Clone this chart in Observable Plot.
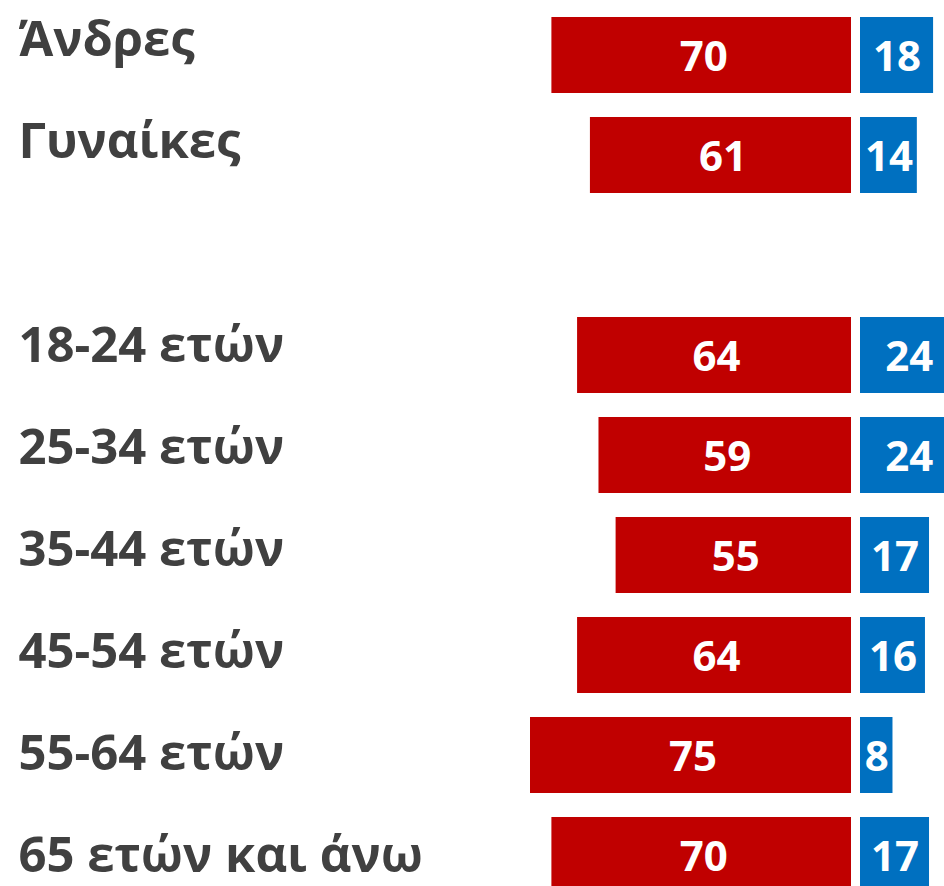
<!DOCTYPE html>
<html>
<head>
<meta charset="utf-8">
<script src="https://cdn.jsdelivr.net/npm/d3@7"></script>
<script src="https://cdn.jsdelivr.net/npm/@observablehq/plot@0.6"></script>
<style>
  html, body { margin: 0; padding: 0; background: #fff; overflow: hidden; }
  #wrap { position: relative; display: flex; width: 944px; height: 886px; overflow: hidden; }
  #wrap svg { overflow: hidden !important; display: block; }
  #labels { position: absolute; left: 0; top: 0; }
</style>
</head>
<body>
<div id="wrap"></div>
<script>
const categories = ["Άνδρες", "Γυναίκες", "", "18-24 ετών", "25-34 ετών", "35-44 ετών", "45-54 ετών", "55-64 ετών", "65 ετών και άνω"];
const redValues  = [70, 61, null, 64, 59, 55, 64, 75, 70];
const blueValues = [18, 14, null, 24, 24, 17, 16, 8, 17];

const rows = categories.map((c, i) => ({cat: c, red: redValues[i], blue: blueValues[i]}));
const barRows = rows.filter(d => d.red != null);

const FONT = "'Open Sans', sans-serif";
const yScale = {domain: categories, range: [5, 905], paddingInner: 0.24, paddingOuter: 0.12, axis: null};

const left = Plot.plot({
  width: 856, height: 886,
  marginLeft: 0, marginRight: 5, marginTop: 0, marginBottom: 0,
  style: {fontFamily: FONT, background: "#fff"},
  x: {domain: [-851 / 4.28, 0], axis: null},
  y: yScale,
  marks: [
    Plot.barX(barRows, {y: "cat", x1: d => -d.red, x2: 0, fill: "#C00000"}),
    Plot.text(barRows, {y: "cat", x: d => -d.red / 2, text: d => String(d.red), fill: "#fff", fontSize: 42, fontWeight: "bold", dx: 2, dy: 2})
  ]
});

const right = Plot.plot({
  width: 88, height: 886,
  marginLeft: 4, marginRight: 0, marginTop: 0, marginBottom: 0,
  style: {fontFamily: FONT, background: "#fff"},
  x: {domain: [0, 84 / 4.06], axis: null},
  y: yScale,
  marks: [
    Plot.barX(barRows, {y: "cat", x1: 0, x2: "blue", fill: "#0070C0", clip: true}),
    Plot.text(barRows, {y: "cat", x: d => d.blue / 2, text: d => String(d.blue), fill: "#fff", fontSize: 42, fontWeight: "bold", dy: 2})
  ]
});

// category labels sit on a slightly wider row pitch than the bars
const labels = Plot.plot({
  width: 500, height: 886,
  marginLeft: 0, marginRight: 0, marginTop: 0, marginBottom: 0,
  style: {fontFamily: FONT, background: "transparent"},
  x: {axis: null},
  y: {type: "point", domain: categories, range: [38, 857.2], padding: 0, axis: null},
  marks: [
    Plot.text(barRows, {y: "cat", frameAnchor: "left", dx: 18, text: "cat", textAnchor: "start", fill: "#404040", fontSize: 49, fontWeight: "bold", dy: 0})
  ]
});
labels.id = "labels";

document.getElementById("wrap").append(left, right, labels);
</script>
</body>
</html>
